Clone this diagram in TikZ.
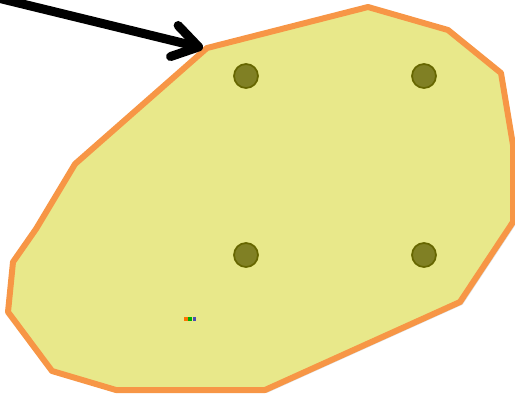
\documentclass[tikz,border=0pt]{standalone}
\usetikzlibrary{arrows.meta,shadows}

\begin{document}
\begin{tikzpicture}[
        x=0.02cm,
        y=-0.02cm,
        region/.style={draw=blobedge, line width=0.12cm, line join=round,
                       fill=blobfill, drop shadow={opacity=0.25, shadow xshift=1.5pt, shadow yshift=-1.5pt}},
        dot/.style={circle, draw=dotedge, line width=1pt, fill=dotfill, minimum size=0.48cm, inner sep=0pt},
        pointer/.style={-{Straight Barb[length=5mm, width=6.4mm, round]}, line width=0.18cm, line cap=round, draw=black},
        pix/.style={inner sep=0pt, minimum width=0.07cm, minimum height=0.08cm}
    ]
        \definecolor{blobfill}{HTML}{E8E88A}
        \definecolor{blobedge}{HTML}{F79646}
        \definecolor{dotfill}{HTML}{808024}
        \definecolor{dotedge}{HTML}{666600}
        \useasboundingbox (0,0) rectangle (515,400);

        % === ZONE (polygone) ===
        \coordinate (v1) at (207,48);
        \draw[region]
            (v1) -- (368,7) -- (448,30) -- (501,73) -- (513,145) -- (513,222)
            -- (460,302) -- (265,390) -- (116,390) -- (52,371) -- (8,312)
            -- (13,262) -- (36,229) -- (75,164) -- cycle;

        % === POINTS ===
        \node[dot] (p1) at (246,76) {};
        \node[dot] (p2) at (424,76) {};
        \node[dot] (p3) at (246,255) {};
        \node[dot] (p4) at (424,255) {};

        % === MARQUE ===
        \node[pix, fill=orange!90!red] (m1) at (186,319) {};
        \node[pix, fill=green!70!black, anchor=west] (m2) at (m1.east) {};
        \node[pix, fill=gray!60!blue, anchor=west] (m3) at (m2.east) {};

        % === FLECHE ===
        \coordinate (start) at (-2,-2);
        \draw[pointer] (start) -- ([shift={(-4,0)}]v1);
    \end{tikzpicture}
\end{document}
